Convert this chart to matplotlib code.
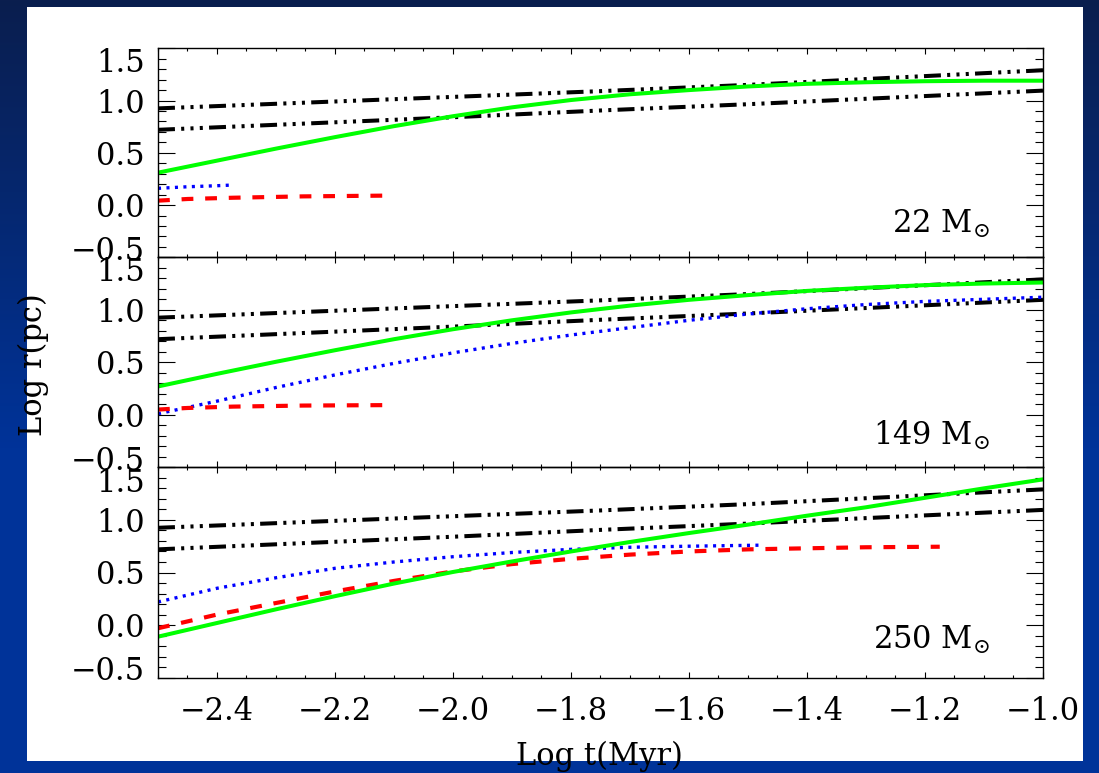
import matplotlib
matplotlib.use("Agg")
import matplotlib.pyplot as plt
import numpy as np
from matplotlib.patches import Rectangle

# ================= Data ===============
t_grid = [-2.5, -2.4, -2.3, -2.2, -2.1, -2.0, -1.9, -1.8, -1.7, -1.6,
          -1.5, -1.4, -1.3, -1.2, -1.1, -1.0]

# the two dash-dot-dot reference lines are the same in every panel
t_black = [-2.5, -2.25, -2.0, -1.75, -1.5, -1.25, -1.0]
r_black_hi = [0.925, 0.98, 1.035, 1.09, 1.15, 1.22, 1.29]
r_black_lo = [0.72, 0.78, 0.84, 0.905, 0.965, 1.03, 1.095]

# panel 1 : 22 Msun
green_22 = [0.31, 0.425, 0.54, 0.65, 0.755, 0.85, 0.935, 1.005, 1.06, 1.10,
            1.135, 1.16, 1.175, 1.185, 1.19, 1.19]
t_blue_22 = [-2.5, -2.45, -2.4, -2.38]
blue_22 = [0.16, 0.175, 0.185, 0.19]
t_red_22 = [-2.5, -2.45, -2.373, -2.254, -2.119]
red_22 = [0.042, 0.058, 0.070, 0.083, 0.09]

# panel 2 : 149 Msun
green_149 = [0.27, 0.39, 0.505, 0.615, 0.72, 0.815, 0.90, 0.975, 1.04, 1.095,
             1.14, 1.18, 1.21, 1.235, 1.25, 1.26]
blue_149 = [0.01, 0.13, 0.26, 0.38, 0.49, 0.59, 0.68, 0.76, 0.83, 0.90,
            0.96, 1.01, 1.05, 1.08, 1.10, 1.12]
t_red_149 = [-2.5, -2.45, -2.373, -2.254, -2.119]
red_149 = [0.05, 0.065, 0.078, 0.088, 0.092]

# panel 3 : 250 Msun
green_250 = [-0.11, 0.02, 0.15, 0.275, 0.395, 0.505, 0.605, 0.70, 0.79, 0.875,
             0.955, 1.04, 1.12, 1.21, 1.30, 1.385]
t_red_250 = [-2.5, -2.4, -2.3, -2.2, -2.1, -2.0, -1.9, -1.8, -1.7, -1.6,
             -1.5, -1.4, -1.3, -1.175]
red_250 = [-0.03, 0.10, 0.21, 0.32, 0.42, 0.51, 0.58, 0.63, 0.67, 0.70,
           0.72, 0.73, 0.74, 0.745]
t_blue_250 = [-2.5, -2.4, -2.3, -2.2, -2.1, -2.0, -1.9, -1.8, -1.7, -1.6,
              -1.475]
blue_250 = [0.22, 0.35, 0.45, 0.54, 0.60, 0.65, 0.69, 0.72, 0.74, 0.75, 0.76]

masses = ["22", "149", "250"]
panels = [
    (green_22, (t_blue_22, blue_22), (t_red_22, red_22)),
    (green_149, (t_grid, blue_149), (t_red_149, red_149)),
    (green_250, (t_blue_250, blue_250), (t_red_250, red_250)),
]
ytick_vals = [-0.5, 0.0, 0.5, 1.0, 1.5]
xtick_vals = [-2.4, -2.2, -2.0, -1.8, -1.6, -1.4, -1.2, -1.0]

# ================= Style ===============
plt.rcParams['font.family'] = ['DejaVu Serif']
plt.rcParams['mathtext.fontset'] = 'dejavuserif'
plt.rcParams['lines.scale_dashes'] = False
plt.rcParams['axes.unicode_minus'] = True
FS = 22

W, H = 1099, 773
fig = plt.figure(figsize=(W / 100, H / 100), dpi=100)

# slide background: blue gradient with a white card on it
bg = fig.add_axes([0, 0, 1, 1], zorder=-10)
top_col = np.array([10, 30, 78]) / 255
bot_col = np.array([0, 51, 153]) / 255
frac = np.clip(np.linspace(0, 1, H) / 0.58, 0, 1)[:, None]
grad = top_col[None, :] * (1 - frac) + bot_col[None, :] * frac
bg.imshow(grad[:, None, :], aspect='auto', extent=[0, 1, 0, 1], origin='upper')
bg.add_patch(Rectangle((27 / W, 1 - 761 / H), (1083 - 27) / W, (761 - 7) / H,
                       facecolor='white', edgecolor='none'))
bg.set_xlim(0, 1)
bg.set_ylim(0, 1)
bg.axis('off')

left, right = 158 / W, 1043 / W
tops = [48.3, 257.3, 467.3, 677.7]

for i in range(3):
    y0 = 1 - tops[i + 1] / H
    h = (tops[i + 1] - tops[i]) / H
    ax = fig.add_axes([left, y0, right - left, h])
    ax.set_facecolor('none')
    green, (tb, blue), (tr, red) = panels[i]

    ax.plot(t_black, r_black_hi, color='black', lw=2.9,
            dashes=(12.2, 4.5, 2.2, 4.5, 2.2, 4.5, 2.2, 4.5))
    ax.plot(t_black, r_black_lo, color='black', lw=2.9,
            dashes=(12.2, 4.5, 2.2, 4.5, 2.2, 4.5, 2.2, 4.5))
    ax.plot(tb, blue, color='#0000ff', lw=2.4, dashes=(2.2, 3.9))
    ax.plot(tr, red, color='#ff0000', lw=3.0, dashes=(8.5, 8.5))
    ax.plot(t_grid, green, color='#00ff00', lw=2.9)

    ax.set_xlim(-2.5, -1.0)
    ax.set_ylim(-0.5, 1.5)
    ax.set_xticks(xtick_vals)
    ax.set_xticks(np.arange(-2.5, -0.99, 0.05), minor=True)
    ax.set_yticks(ytick_vals)
    ax.set_yticks(np.arange(-0.5, 1.51, 0.1), minor=True)
    ax.set_yticklabels(['', '0.0', '0.5', '1.0', ''], fontsize=FS)

    # end labels sit inside the axis height
    ax.text(-0.0147, 0.942, '1.5', transform=ax.transAxes, ha='right',
            va='center_baseline', fontsize=FS)
    ax.text(-0.0147, 0.045, '\u22120.5', transform=ax.transAxes, ha='right',
            va='center_baseline', fontsize=FS)

    ax.tick_params(axis='both', which='both', direction='in', top=True,
                   right=True, width=0.8, colors='black')
    ax.tick_params(axis='y', which='major', length=12, pad=9.5)
    ax.tick_params(axis='y', which='minor', length=6)
    ax.tick_params(axis='x', which='major', length=4.5, pad=13)
    ax.tick_params(axis='x', which='minor', length=2.2)
    for sp in ax.spines.values():
        sp.set_linewidth(1.0)

    if i < 2:
        ax.set_xticklabels([])
    else:
        ax.set_xticklabels(['\u2212%.1f' % abs(v) for v in xtick_vals], fontsize=FS)

    ax.text(0.94, [0.116, 0.105, 0.136][i], masses[i] + r' M$_{\odot}$',
            transform=ax.transAxes, ha='right', va='baseline', fontsize=FS)

fig.text(599 / W, 1 - 765 / H, 'Log t(Myr)', ha='center', va='baseline',
         fontsize=FS)
fig.text(33 / W, 1 - 365 / H, 'Log r(pc)', ha='center', va='center',
         rotation=90, fontsize=FS)

fig.savefig('out.png', dpi=100)
